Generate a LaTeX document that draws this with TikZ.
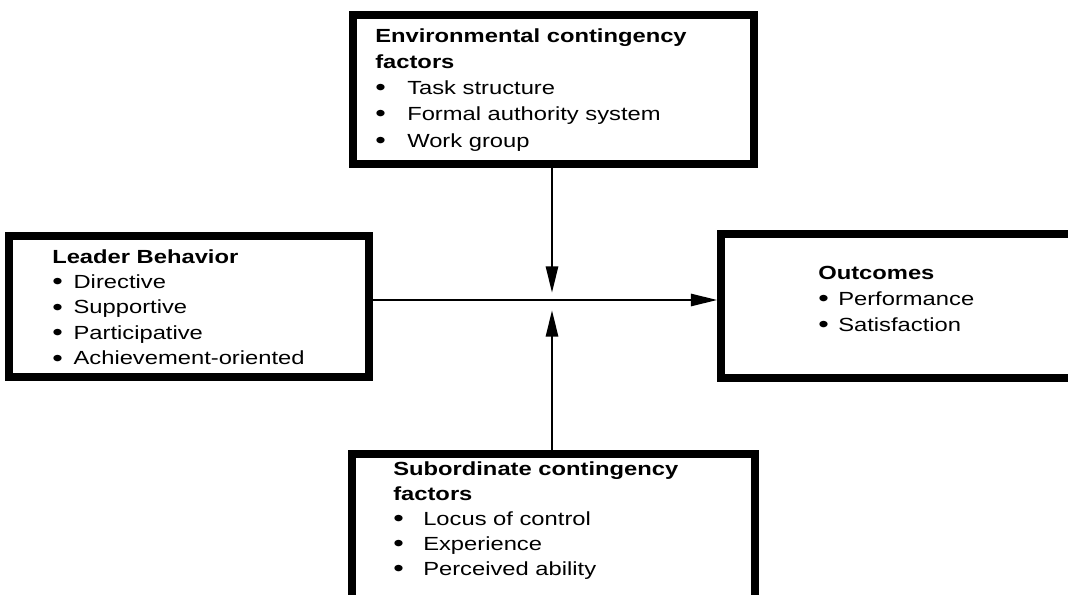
\documentclass[tikz,border=0pt]{standalone}
\usepackage{fontspec}
\setmainfont{Liberation Sans}[FakeStretch=1.25]
\usetikzlibrary{arrows.meta}
\newcommand{\bul}[1]{\makebox[#1][l]{\raisebox{-0.06em}{\fontsize{18pt}{18pt}\selectfont\textbullet}}}
\tikzset{
  boxnode/.style={draw=black, line width=5.3pt, rectangle, inner sep=0pt},
  txtnode/.style={anchor=north west, inner sep=0pt, align=left},
  arr/.style={line width=2.2pt, -{Triangle[length=20pt,width=9pt]}},
}
\begin{document}
\begin{tikzpicture}[x=0.75pt,y=-0.75pt]
\clip (0,0) rectangle (1068,595);
\fill[white] (0,0) rectangle (1068,595);
% boxes
\node[boxnode, minimum width=300.75pt, minimum height=111.75pt] (env) at (553.5,89.5) {};
\node[boxnode, minimum width=270pt, minimum height=105.75pt] (lead) at (189,306.5) {};
\node[boxnode, minimum width=276.75pt, minimum height=108pt] (out) at (905.5,306) {};
\node[boxnode, minimum width=302.25pt, minimum height=124.5pt] (sub) at (553.5,537) {};
% texts
\node[txtnode, font=\fontsize{14.25pt}{19.7pt}\selectfont] (envt) at (375,28)
  {\textbf{Environmental contingency}\\\textbf{factors}\\
   \bul{24pt}Task structure\\\bul{24pt}Formal authority system\\\bul{24pt}Work group};
\node[txtnode, font=\fontsize{14.25pt}{19.1pt}\selectfont] (leadt) at (52,249)
  {\textbf{Leader Behavior}\\\bul{16pt}Directive\\\bul{16pt}Supportive\\
   \bul{16pt}Participative\\\bul{16pt}Achievement-oriented};
\node[txtnode, font=\fontsize{14.25pt}{19.5pt}\selectfont] (outt) at (818,266)
  {\textbf{Outcomes}\\\bul{15pt}Performance\\\bul{15pt}Satisfaction};
\node[txtnode, font=\fontsize{14.25pt}{18.75pt}\selectfont] (subt) at (393,461)
  {\textbf{Subordinate contingency}\\\textbf{factors}\\
   \bul{22.5pt}Locus of control\\\bul{22.5pt}Experience\\\bul{22.5pt}Perceived ability};
% connectors
\coordinate (jtop) at (552,293);
\coordinate (jbot) at (552,310);
\coordinate (mid) at (552,300);
\draw[arr] (env.south -| jtop) -- (jtop);
\draw[arr] (sub.north -| jbot) -- (jbot);
\draw[arr] (lead.east |- mid) -- (out.west |- mid);
\end{tikzpicture}
\end{document}
